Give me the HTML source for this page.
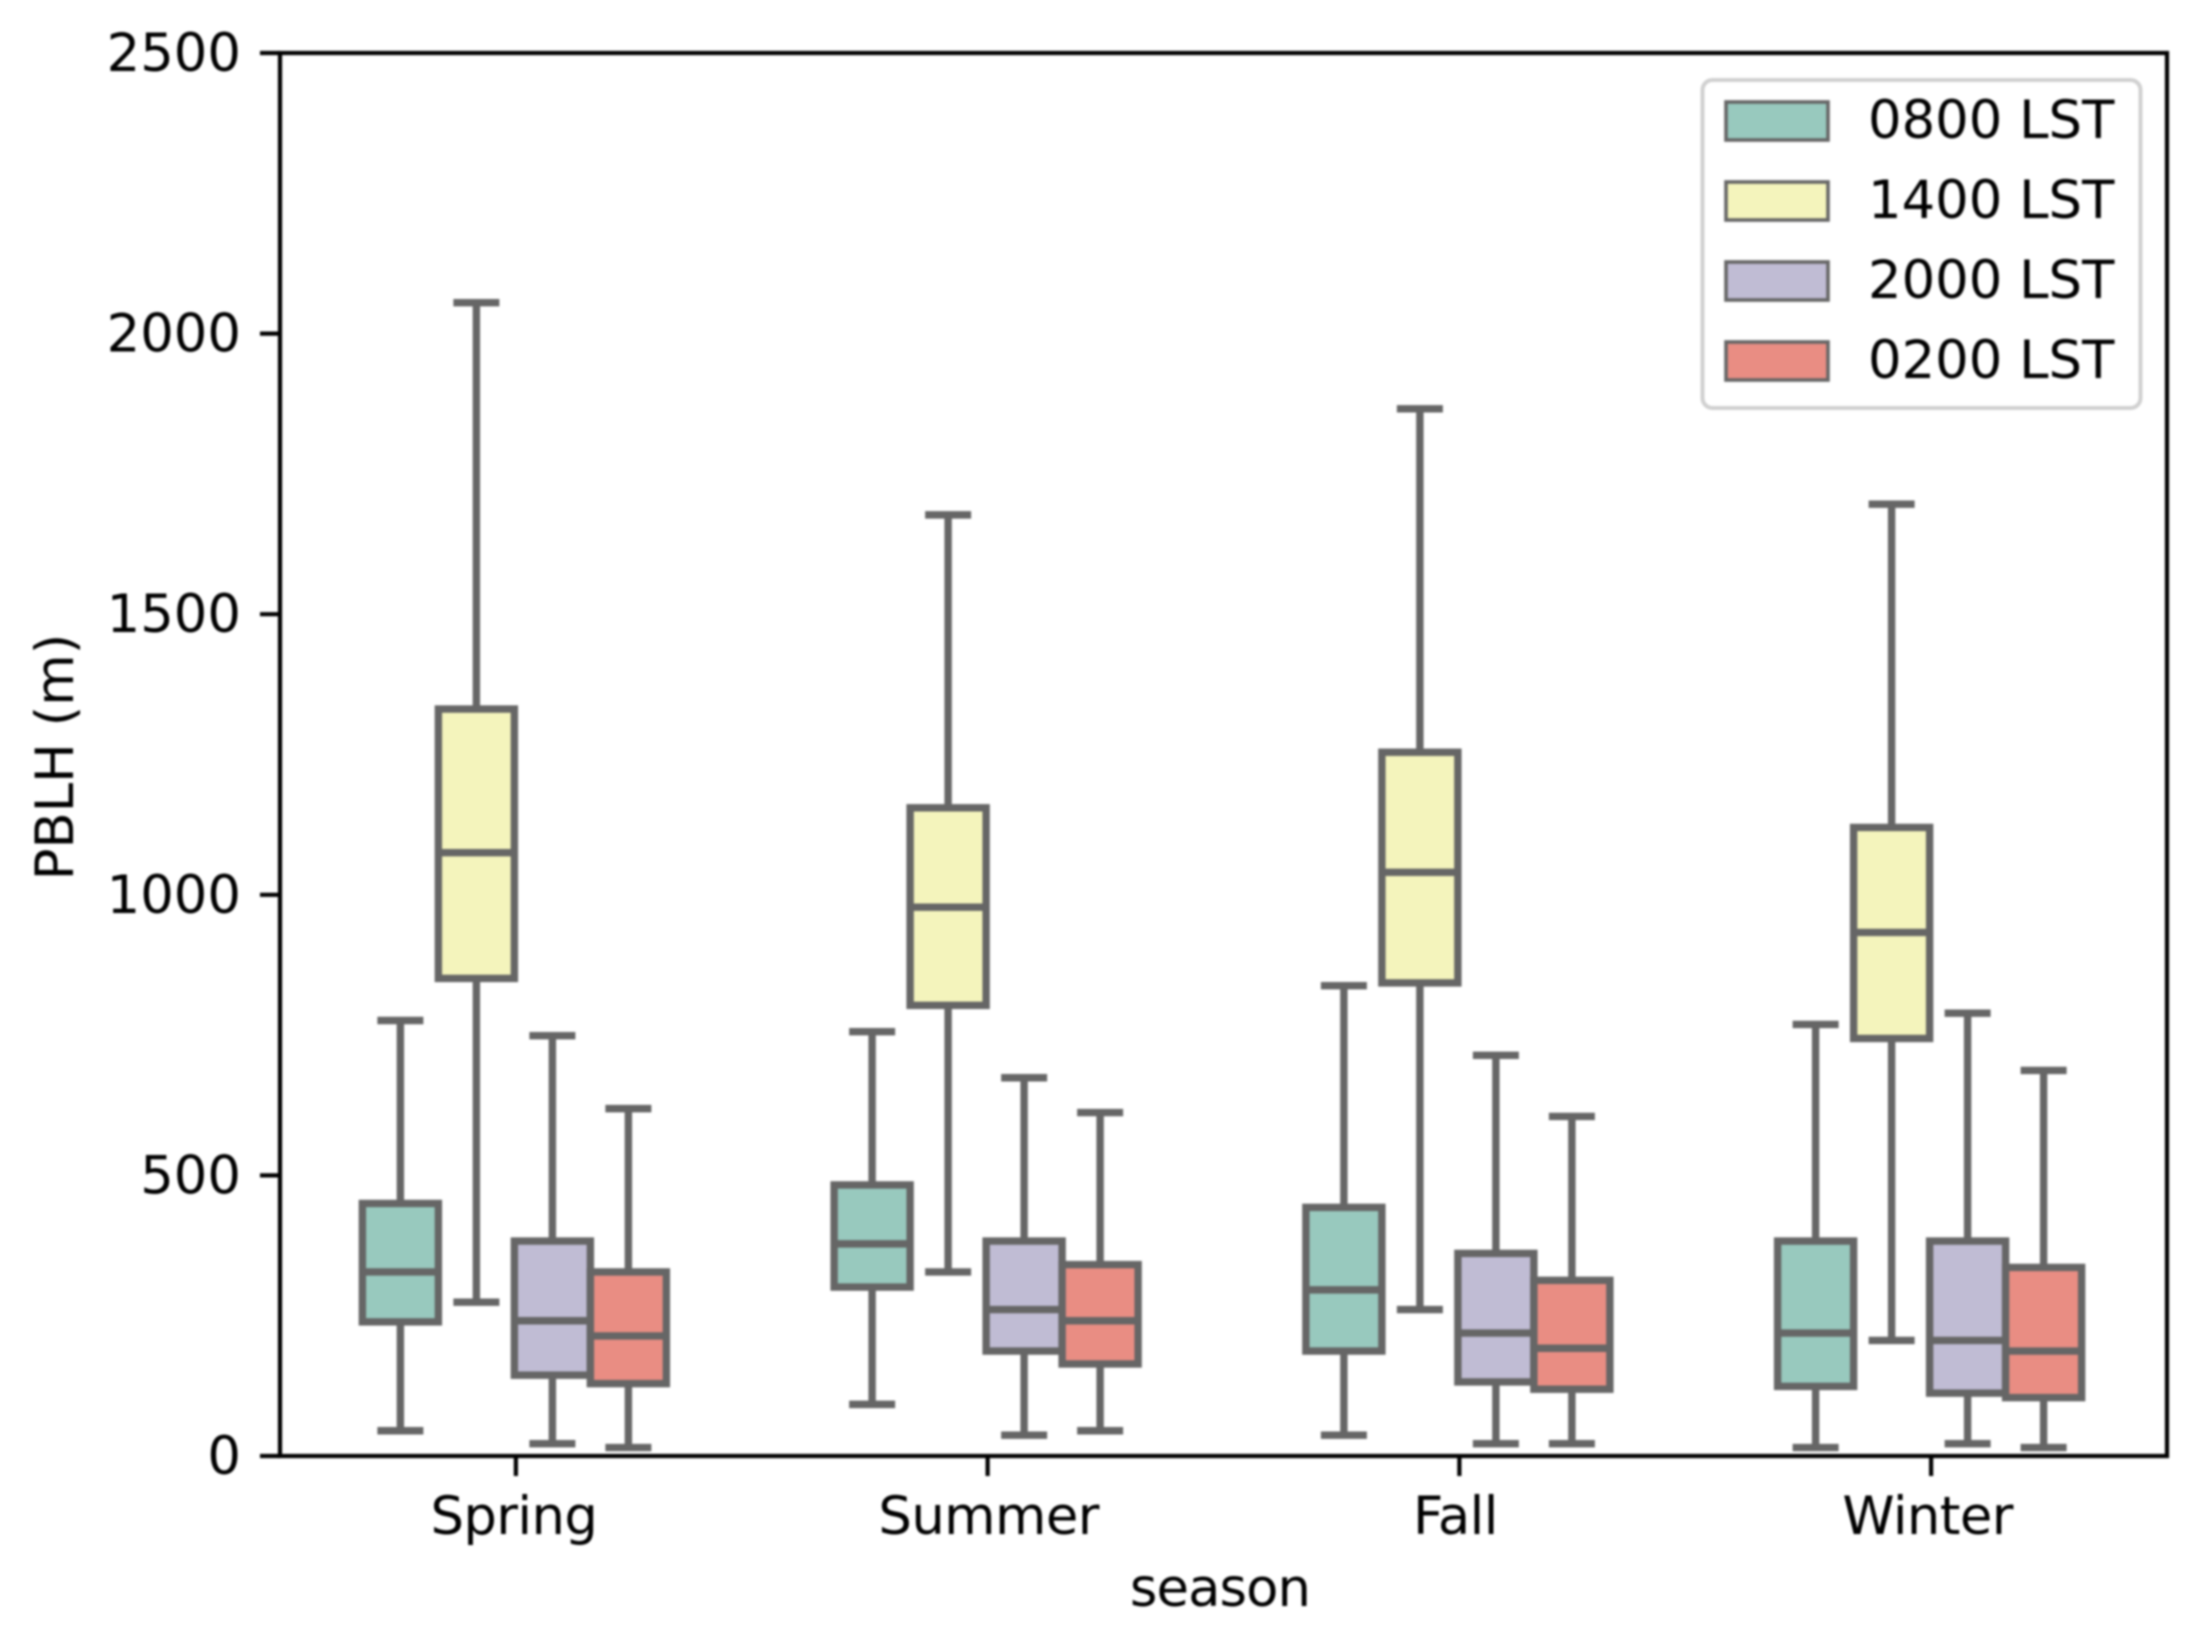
<!DOCTYPE html>
<html lang="en">
<head>
<meta charset="utf-8">
<title>PBLH by season</title>
<style>
html,body{margin:0;padding:0;background:#fff;width:2189px;height:1637px;overflow:hidden}
#chart{display:block;filter:blur(1px)}
text{font-family:"DejaVu Sans","Liberation Sans",sans-serif;font-size:52.8px;fill:#000}
</style>
</head>
<body>
<svg id="chart" xmlns="http://www.w3.org/2000/svg" width="2189" height="1637" viewBox="0 0 2189 1637">
<rect x="0" y="0" width="2189" height="1637" fill="#ffffff"/>
<g id="boxes"></g>
<g id="axes"></g>
<text x="1220" y="1606" text-anchor="middle" letter-spacing="-0.9">season</text>
<text transform="translate(73,757) rotate(-90)" text-anchor="middle">PBLH (m)</text>
<g id="legend"></g>
</svg>
<script>
const categories = ['Spring', 'Summer', 'Fall', 'Winter'];
const seriesNames = ['0800 LST', '1400 LST', '2000 LST', '0200 LST'];
const yTickValues = [0, 500, 1000, 1500, 2000, 2500];

const low0800  = [45, 92, 37, 15];
const q1_0800  = [239, 301, 187, 124];
const med0800  = [328, 378, 296, 219];
const q3_0800  = [450, 483, 443, 383];
const high0800 = [776, 756, 838, 769];

const low1400  = [274, 328, 261, 206];
const q1_1400  = [851, 803, 843, 744];
const med1400  = [1075, 978, 1040, 933];
const q3_1400  = [1331, 1155, 1254, 1120];
const high1400 = [2055, 1677, 1866, 1696];

const low2000  = [22, 37, 22, 22];
const q1_2000  = [144, 187, 132, 112];
const med2000  = [241, 261, 219, 206];
const q3_2000  = [383, 383, 361, 383];
const high2000 = [749, 674, 714, 789];

const low0200  = [15, 45, 22, 15];
const q1_0200  = [129, 164, 119, 104];
const med0200  = [214, 241, 192, 187];
const q3_0200  = [328, 341, 313, 336];
const high0200 = [619, 612, 605, 687];

const lowSeries  = [low0800, low1400, low2000, low0200];
const q1Series   = [q1_0800, q1_1400, q1_2000, q1_0200];
const medSeries  = [med0800, med1400, med2000, med0200];
const q3Series   = [q3_0800, q3_1400, q3_2000, q3_0200];
const highSeries = [high0800, high1400, high2000, high0200];

const fills = ['#98c9be', '#f4f4bc', '#c0bcd4', '#e98d83'];
const lineColor = '#666666';
const NS = 'http://www.w3.org/2000/svg';

const plotLeft = 280, plotRight = 2167, plotTop = 53, plotBottom = 1456;
const yMax = 2500;
const boxStep = 76;
const boxLine = 7.4;
const capHalf = 23;
const axisLine = 4.2;
const labelNudge = { Summer: 3, Fall: -2, Winter: -1.5 };

function yScale(v) {
  return plotBottom - (v / yMax) * (plotBottom - plotTop);
}
function xScale(i) {
  return plotLeft + (i + 0.5) * (plotRight - plotLeft) / categories.length;
}
function boxCenter(i, s) {
  return xScale(i) - 1.5 + (s - (seriesNames.length - 1) / 2) * boxStep;
}
function make(tag, attrs, parent) {
  const el = document.createElementNS(NS, tag);
  Object.keys(attrs).forEach(function (k) { el.setAttribute(k, attrs[k]); });
  parent.appendChild(el);
  return el;
}
function slug(name) {
  return name.toLowerCase().replace(/\s+/g, '-');
}

const boxesLayer = document.getElementById('boxes');
seriesNames.forEach(function (sName, s) {
  categories.forEach(function (cat, i) {
    const cx = boxCenter(i, s);
    const g = make('g', {}, boxesLayer);
    
    
    const line = { stroke: lineColor, 'stroke-width': boxLine, fill: 'none' };
    const yLow = yScale(lowSeries[s][i]);
    const yQ1 = yScale(q1Series[s][i]);
    const yMed = yScale(medSeries[s][i]);
    const yQ3 = yScale(q3Series[s][i]);
    const yHigh = yScale(highSeries[s][i]);

    const lowerWhisker = make('line', Object.assign({ x1: cx, x2: cx, y1: yQ1, y2: yLow }, line), g);
    
    
    const upperWhisker = make('line', Object.assign({ x1: cx, x2: cx, y1: yQ3, y2: yHigh }, line), g);
    
    
    const lowerCap = make('line', Object.assign({ x1: cx - capHalf, x2: cx + capHalf, y1: yLow, y2: yLow }, line), g);
    
    
    const upperCap = make('line', Object.assign({ x1: cx - capHalf, x2: cx + capHalf, y1: yHigh, y2: yHigh }, line), g);
    
    
    const box = make('rect', { x: cx - boxStep / 2, y: yQ3, width: boxStep, height: yQ1 - yQ3, fill: fills[s], stroke: lineColor, 'stroke-width': boxLine }, g);
    
    
    const median = make('line', Object.assign({ x1: cx - boxStep / 2, x2: cx + boxStep / 2, y1: yMed, y2: yMed }, line), g);
    
    
  });
});

const axesLayer = document.getElementById('axes');
const frame = make('rect', { x: plotLeft, y: plotTop, width: plotRight - plotLeft, height: plotBottom - plotTop, fill: 'none', stroke: '#000', 'stroke-width': axisLine }, axesLayer);



yTickValues.forEach(function (v) {
  const y = yScale(v);
  const tick = make('line', { x1: plotLeft - 20, x2: plotLeft, y1: y, y2: y, stroke: '#000', 'stroke-width': axisLine }, axesLayer);
  
  
  const label = make('text', { x: 241, y: y + 18, 'text-anchor': 'end' }, axesLayer);
  
  
  label.textContent = String(v);
});

categories.forEach(function (cat, i) {
  const x = xScale(i);
  const tick = make('line', { x1: x, x2: x, y1: plotBottom, y2: plotBottom + 20, stroke: '#000', 'stroke-width': axisLine }, axesLayer);
  
  
  const label = make('text', { x: x - 2 + (labelNudge[cat] || 0), y: 1534, 'text-anchor': 'middle', 'letter-spacing': -0.6 }, axesLayer);
  
  
  label.textContent = cat;
});

const legendLayer = document.getElementById('legend');
const legendFrame = make('rect', { x: 1702.5, y: 80, width: 438, height: 328, rx: 10, ry: 10, fill: '#ffffff', 'fill-opacity': 0.8, stroke: '#d0d0d0', 'stroke-width': 4 }, legendLayer);



seriesNames.forEach(function (sName, s) {
  const rowTop = 102 + s * 80;
  const g = make('g', {}, legendLayer);
  
  
  const swatch = make('rect', { x: 1726, y: rowTop, width: 102, height: 38, fill: fills[s], stroke: lineColor, 'stroke-width': 3.6 }, g);
  
  
  const label = make('text', { x: 1868, y: rowTop + 36 }, g);
  
  
  label.textContent = sName;
});
</script>
</body>
</html>
